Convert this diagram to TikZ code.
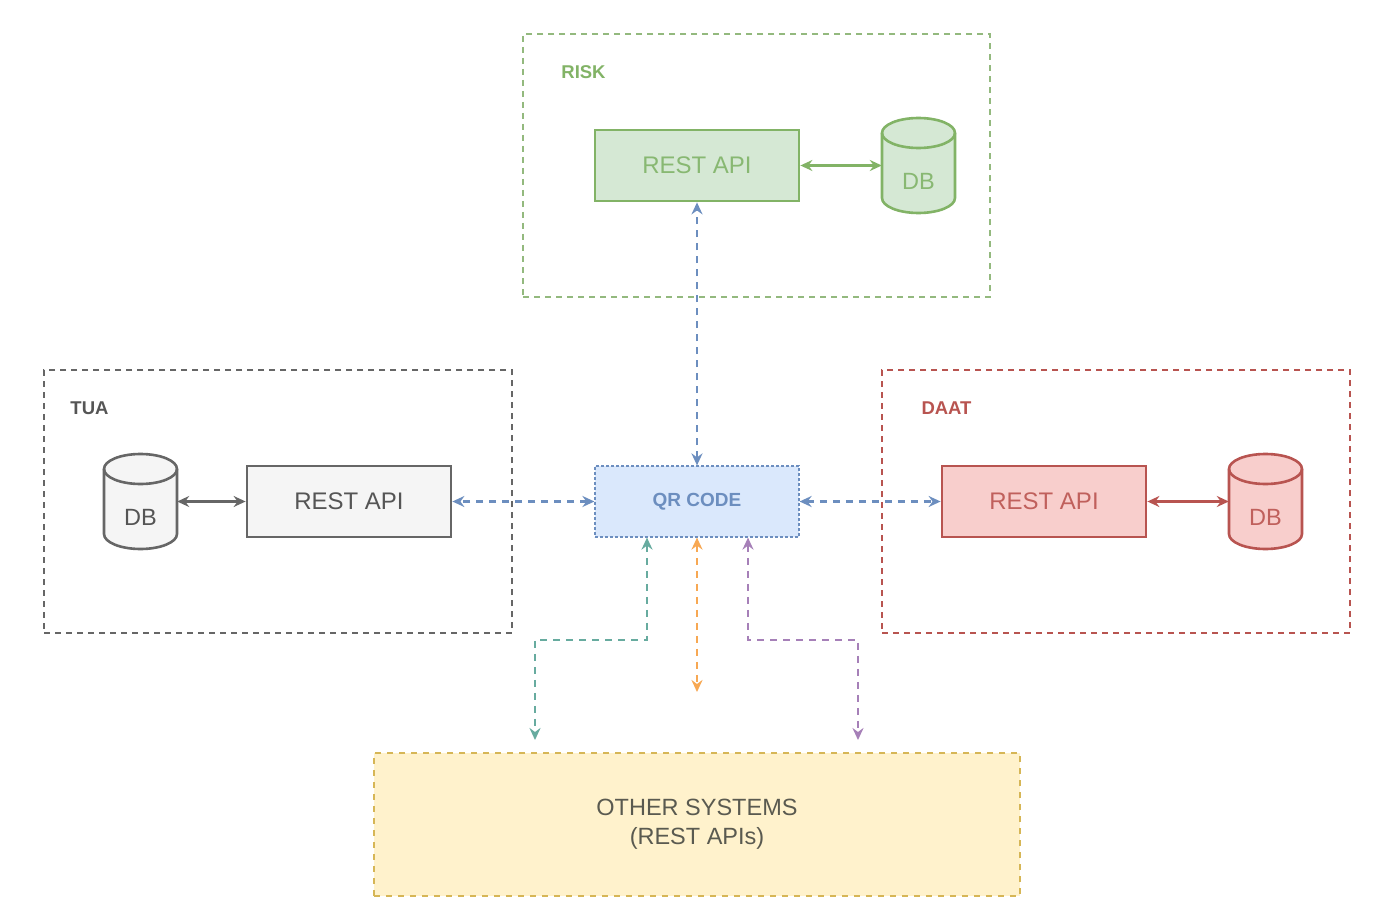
\documentclass[tikz,border=0pt]{standalone}
\usepackage{fontspec}
\setmainfont{Liberation Sans}
\usetikzlibrary{arrows.meta}
\definecolor{gstroke}{HTML}{82B366}
\definecolor{gfill}{HTML}{D5E8D4}
\definecolor{gtext}{HTML}{88B872}
\definecolor{gcont}{HTML}{93B97E}
\definecolor{kstroke}{HTML}{666666}
\definecolor{kfill}{HTML}{F5F5F5}
\definecolor{ktext}{HTML}{555555}
\definecolor{rstroke}{HTML}{B85450}
\definecolor{rfill}{HTML}{F8CECC}
\definecolor{rtext}{HTML}{C0605C}
\definecolor{bstroke}{HTML}{6C8EBF}
\definecolor{bfill}{HTML}{DAE8FC}
\definecolor{ystroke}{HTML}{D6B656}
\definecolor{yfill}{HTML}{FFF2CC}
\definecolor{ytext}{HTML}{5A5A50}
\definecolor{tealc}{HTML}{67AB9F}
\definecolor{orangec}{HTML}{F7A853}
\definecolor{purplec}{HTML}{A680B8}
\newcommand\mycyl[4]{% cx cy fill stroke
  \filldraw[fill=#3,draw=#4,line width=2.6pt]
    (#1-36.5,#2+32.5) -- (#1-36.5,#2-32.5)
    arc[start angle=180,end angle=360,x radius=36.5pt,y radius=15pt]
    -- (#1+36.5,#2+32.5)
    arc[start angle=0,end angle=180,x radius=36.5pt,y radius=15pt] -- cycle;
  \draw[draw=#4,line width=2.6pt] (#1-36.5,#2+32.5)
    arc[start angle=180,end angle=360,x radius=36.5pt,y radius=15pt];
}
\begin{document}
\begin{tikzpicture}[x=1pt,y=1pt,
  cont/.style={draw,line width=2.4pt,dash pattern=on 6pt off 5pt,minimum width=#1,inner sep=0pt},
  apibox/.style={draw,line width=2.8pt,minimum width=204pt,minimum height=71pt,inner sep=0pt,font=\fontsize{24}{28}\selectfont},
  cylbox/.style={minimum width=73pt,minimum height=95pt,inner sep=0pt},
  dblabel/.style={font=\fontsize{23.5}{28}\selectfont,inner sep=0pt},
  title/.style={font=\bfseries\fontsize{18.5}{22}\selectfont,inner sep=0pt},
  conn/.style={line width=2.2pt,dash pattern=on 7pt off 6pt,{Stealth[length=12pt,width=11pt,inset=4pt]}-{Stealth[length=12pt,width=11pt,inset=4pt]}},
  solidconn/.style={line width=2.6pt,{Stealth[length=12pt,width=11pt,inset=4pt]}-{Stealth[length=12pt,width=11pt,inset=4pt]}}
]
\fill[white] (0,0) rectangle (1390,-923);
\useasboundingbox (0,0) rectangle (1390,-923);

% containers
\node[cont=467pt,minimum height=263pt,draw=gcont] (risk) at (756.5,-165.5) {};
\node[cont=468pt,minimum height=263pt,draw=kstroke] (tua) at (278,-501.5) {};
\node[cont=468pt,minimum height=263pt,draw=rstroke] (daat) at (1116,-501.5) {};
\node[draw=ystroke,fill=yfill,line width=2pt,dash pattern=on 6pt off 6pt,minimum width=646pt,minimum height=143pt,inner sep=0pt,align=center,text=ytext,font=\fontsize{23.5}{29}\selectfont] (other) at (697,-824.5) {OTHER SYSTEMS\\(REST APIs)};

% titles
\node[title,text=gstroke] (risklbl) at (583.5,-72) {RISK};
\node[title,text=ktext] (tualbl) at (89.5,-408) {TUA};
\node[title,text=rstroke] (daatlbl) at (946.5,-408) {DAAT};

% API boxes
\node[apibox,draw=gstroke,fill=gfill,text=gtext] (grest) at (697,-165.5) {REST API};
\node[apibox,draw=kstroke,fill=kfill,text=ktext] (krest) at (349,-501.5) {REST API};
\node[apibox,draw=rstroke,fill=rfill,text=rtext] (rrest) at (1044,-501.5) {REST API};
\node[apibox,draw=bstroke,fill=bfill,text=bstroke,line width=1.2pt,dash pattern=on 3pt off 2pt,font=\bfseries\fontsize{19}{22}\selectfont] (qr) at (697,-501.5) {QR CODE};

% databases
\mycyl{918.5}{-165.5}{gfill}{gstroke}
\node[cylbox] (gdb) at (918.5,-165.5) {};
\node[dblabel,text=gtext] (gdbl) at (918.5,-181) {DB};
\mycyl{140.5}{-501.5}{kfill}{kstroke}
\node[cylbox] (kdb) at (140.5,-501.5) {};
\node[dblabel,text=ktext] (kdbl) at (140.5,-517) {DB};
\mycyl{1265.5}{-501.5}{rfill}{rstroke}
\node[cylbox] (rdb) at (1265.5,-501.5) {};
\node[dblabel,text=rtext] (rdbl) at (1265.5,-517) {DB};

% free ends
\coordinate (tend) at (535,-740);
\coordinate (oend) at (697,-692);
\coordinate (pend) at (858,-740);

% connectors
\draw[solidconn,draw=gstroke] (grest.east) -- (gdb.west);
\draw[solidconn,draw=kstroke] (kdb.east) -- (krest.west);
\draw[solidconn,draw=rstroke] (rrest.east) -- (rdb.west);
\draw[conn,draw=bstroke] (qr.north) -- (grest.south);
\draw[conn,draw=bstroke] (qr.west) -- (krest.east);
\draw[conn,draw=bstroke] (qr.east) -- (rrest.west);
\draw[conn,draw=tealc] ([xshift=-50pt]qr.south) -- ++(0,-102) -| (tend);
\draw[conn,draw=orangec] (qr.south) -- (oend);
\draw[conn,draw=purplec] ([xshift=51pt]qr.south) -- ++(0,-102) -| (pend);
\end{tikzpicture}
\end{document}
